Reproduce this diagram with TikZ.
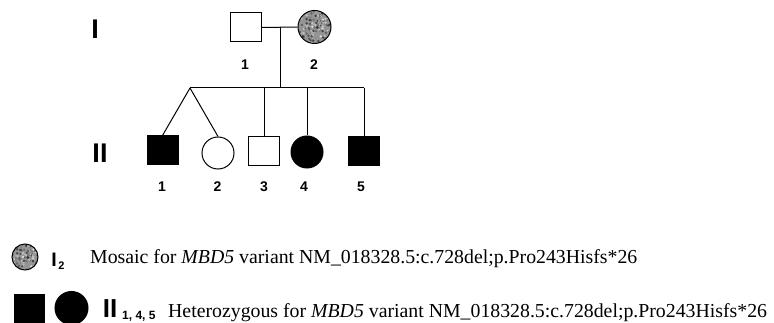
\documentclass[tikz,border=0pt]{standalone}
\usepackage{fontspec}
\setmainfont{Liberation Serif}
\newfontfamily\lsans{Liberation Sans}
\begin{document}
\begin{tikzpicture}[x=1pt,y=-1pt,
  indiv/.style={draw=black, line width=1pt, inner sep=0pt},
  sq/.style={indiv, rectangle, minimum width=31pt, minimum height=29pt},
  ci/.style={indiv, circle, minimum size=32pt},
  aff/.style={fill=black},
  link/.style={line width=1pt},
  gen/.style={font=\lsans\bfseries\fontsize{27}{27}\selectfont, inner sep=0pt},
  num/.style={font=\lsans\bfseries\fontsize{14}{14}\selectfont, inner sep=0pt},
  legtext/.style={font=\fontsize{19.8}{22}\selectfont, inner sep=0pt, anchor=base west},
  mosaic/.style={fill=black!42, path picture={
    \pgfmathsetseed{7}
    \foreach \k in {1,...,160}{
      \pgfmathsetmacro\rx{17*rand}
      \pgfmathsetmacro\ry{17*rand}
      \pgfmathsetmacro\g{int(12+70*rnd)}
      \fill[black!\g] ([shift={(\rx pt,\ry pt)}]path picture bounding box.center) circle (1.3pt);
    }}}
]
\path[use as bounding box] (0,0) rectangle (774,323);

% generation labels
\node[gen] (gI) at (95,29) {I};
\node[gen] (gII) at (100,153) {II};

% generation I
\node[sq] (i1) at (245.5,27.5) {};
\node[ci, mosaic, minimum size=33pt] (i2) at (314.5,27) {};
\node[num] (n-i1) at (245,65) {1};
\node[num] (n-i2) at (314,65) {2};

\coordinate (mid) at (280.5,27);
\coordinate (sibtop) at (280.5,88);
\coordinate (sibL) at (190,88);
\coordinate (sibR) at (364,88);
\coordinate (d3) at (264,88);
\coordinate (d4) at (307,88);

\draw[link] (i1.east) -- (i2.west);
\draw[link] (mid) -- (sibtop);
\draw[link] (sibL) -- (sibR);

% generation II
\node[sq, aff] (ii1) at (162.5,150.5) {};
\node[ci] (ii2) at (218,153) {};
\node[sq] (ii3) at (264,151.5) {};
\node[ci, aff] (ii4) at (307,152) {};
\node[sq, aff] (ii5) at (364,151.5) {};

\draw[link] (sibL) -- (ii1.north);
\draw[link] (sibL) -- (ii2.north);
\draw[link] (d3) -- (ii3.north);
\draw[link] (d4) -- (ii4.north);
\draw[link] (sibR) -- (ii5.north);

\node[num] (n-ii1) at (162,187) {1};
\node[num] (n-ii2) at (217.5,187) {2};
\node[num] (n-ii3) at (264,187) {3};
\node[num] (n-ii4) at (304,187) {4};
\node[num] (n-ii5) at (361,187) {5};

% legend
\node[ci, mosaic, minimum size=26pt] (lm) at (25,257) {};
\node[inner sep=0pt, font=\lsans\bfseries\fontsize{19.5}{19.5}\selectfont] (lI) at (54,260) {I};
\node[inner sep=0pt, font=\lsans\bfseries\fontsize{11}{11}\selectfont] (lI2) at (61.5,266) {2};
\node[legtext] (lt1) at (90,263) {Mosaic for \textit{MBD5} variant NM\_018328.5:c.728del;p.Pro243Hisfs*26};

\node[sq, aff, minimum width=30pt, minimum height=28pt] (lsq) at (29.5,308.5) {};
\node[ci, aff, minimum size=33pt] (lci) at (71.5,308) {};
\node[inner sep=0pt, font=\lsans\bfseries\fontsize{26}{26}\selectfont] (lII) at (110,309) {II};
\node[inner sep=0pt, anchor=west, font=\lsans\bfseries\fontsize{12}{12}\selectfont] (lII2) at (122,316.5) {1, 4, 5};
\node[legtext] (lt2) at (168,317) {Heterozygous for \textit{MBD5} variant NM\_018328.5:c.728del;p.Pro243Hisfs*26};
\end{tikzpicture}
\end{document}
